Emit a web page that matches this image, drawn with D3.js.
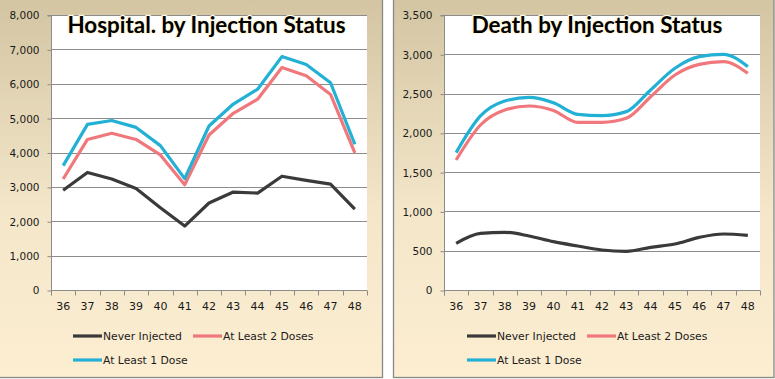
<!DOCTYPE html>
<html><head><meta charset="utf-8">
<script src="https://cdn.jsdelivr.net/npm/d3@7"></script>
<style>
html,body{margin:0;padding:0;background:#fff;}
svg{display:block;}
</style></head>
<body>
<svg id="c" width="775" height="379"></svg>
<script>
const weeks = ["36","37","38","39","40","41","42","43","44","45","46","47","48"];
const seriesNames = ["Never Injected","At Least 2 Doses","At Least 1 Dose"];
const seriesColors = ["#3a3a3a","#f0787c","#22b0d4"];

const hospNever = [2900,3420,3230,2950,2390,1860,2530,2850,2820,3310,3190,3080,2350];
const hospTwo   = [3230,4380,4560,4380,3930,3060,4510,5140,5550,6470,6230,5690,3990];
const hospOne   = [3620,4820,4930,4730,4200,3240,4770,5410,5840,6790,6560,6030,4240];
const hospTicks = [0,1000,2000,3000,4000,5000,6000,7000,8000];

const deathNever = [594,721,734,687,615,560,509,492,543,585,670,713,696];
const deathTwo   = [1655,2100,2291,2342,2285,2134,2134,2185,2460,2736,2872,2906,2758];
const deathOne   = [1748,2215,2405,2452,2384,2236,2219,2270,2546,2822,2970,3000,2843];
const deathTicks = [0,500,1000,1500,2000,2500,3000,3500];

const svg = d3.select("#c");
const defs = svg.append("defs");
const grad = defs.append("linearGradient").attr("id","bg").attr("x1",0).attr("y1",0).attr("x2",0).attr("y2",1);
grad.append("stop").attr("offset","0%").attr("stop-color","#d3c5a2");
grad.append("stop").attr("offset","55%").attr("stop-color","#f3e6c9");
grad.append("stop").attr("offset","100%").attr("stop-color","#fdeed2");

const fmt = d3.format(",");

function panel(cfg){
  const g = svg.append("g");
  g.append("rect").attr("x",cfg.px).attr("y",-1).attr("width",cfg.pw).attr("height",378.5)
    .attr("fill","url(#bg)").attr("stroke","#888").attr("stroke-width",1.3);
  const x = d3.scaleBand().domain(weeks).range([cfg.x0,cfg.x1]);
  const y = d3.scaleLinear().domain([0,cfg.max]).range([290,15]);
  g.append("rect").attr("x",cfg.x0).attr("y",15).attr("width",cfg.x1-cfg.x0).attr("height",275).attr("fill","#fff");
  // grid
  g.append("g").selectAll("line").data(cfg.ticks.filter(t=>t>0)).join("line")
    .attr("x1",cfg.x0).attr("x2",cfg.x1).attr("y1",d=>Math.round(y(d))+0.5).attr("y2",d=>Math.round(y(d))+0.5)
    .attr("stroke","#8c8c8c").attr("stroke-width",1);
  // y axis
  const ya = g.append("g").attr("transform",`translate(${cfg.x0+0.5},0.5)`)
    .call(d3.axisLeft(y).tickValues(cfg.ticks).tickFormat(fmt).tickSize(4).tickPadding(8));
  ya.select(".domain").attr("stroke","#8c8c8c").attr("d",`M-4,${y(cfg.max)}H0V${y(0)+5}`);
  ya.selectAll(".tick line").attr("stroke","#8c8c8c");
  ya.selectAll("text").attr("font-family","DejaVu Sans, Verdana, sans-serif").attr("font-size","10.5px").attr("fill","#1a1a1a");
  // x axis
  const xa = g.append("g").attr("transform",`translate(0,${y(0)+0.5})`)
    .call(d3.axisBottom(x).tickSize(0).tickPadding(12));
  xa.select(".domain").attr("stroke","#8c8c8c").attr("d",`M${cfg.x0},0H${cfg.x1}`);
  xa.selectAll("text").attr("font-family","DejaVu Sans, Verdana, sans-serif").attr("font-size","11px").attr("fill","#1a1a1a");
  const edges = weeks.map(w=>x(w)).concat([cfg.x1]);
  xa.append("g").selectAll("line").data(edges).join("line")
    .attr("x1",d=>Math.round(d)+0.5).attr("x2",d=>Math.round(d)+0.5).attr("y1",0).attr("y2",5)
    .attr("stroke","#8c8c8c");
  // lines
  const line = d3.line().x((d,i)=>x(weeks[i])+x.bandwidth()/2).y(d=>y(d)).curve(cfg.curve);
  cfg.data.forEach((s,i)=>{
    g.append("path").attr("d",line(s)).attr("fill","none").attr("stroke",seriesColors[i])
      .attr("stroke-width",3.2).attr("stroke-linejoin","round").attr("stroke-linecap","butt");
  });
  // title
  g.append("text").attr("x",cfg.tx).attr("y",33).attr("text-anchor","middle")
    .attr("font-family","Lato, 'Open Sans', sans-serif").attr("font-weight","bold")
    .attr("font-size","22.4px").attr("fill","#000").attr("stroke","#fff8e0").attr("stroke-width",2.5)
    .attr("paint-order","stroke").text(cfg.title);
  // legend
  const leg = [[cfg.lx,336,0],[cfg.lx+cfg.l2,336,1],[cfg.lx,360,2]];
  leg.forEach(([lx,ly,i])=>{
    g.append("line").attr("x1",lx).attr("x2",lx+29).attr("y1",ly).attr("y2",ly)
      .attr("stroke",seriesColors[i]).attr("stroke-width",3.2);
    g.append("text").attr("x",lx+30).attr("y",ly+4).attr("font-family","DejaVu Sans, Verdana, sans-serif")
      .attr("font-size","10.8px").attr("fill","#1a1a1a").text(seriesNames[i]);
  });
}

panel({px:-1,pw:383.5,x0:51,x1:367,max:8000,ticks:hospTicks,data:[hospNever,hospTwo,hospOne],
  title:"Hospital. by Injection Status",tx:206.5,lx:73,l2:120,curve:d3.curveLinear});
panel({px:393.5,pw:380.5,x0:444,x1:760,max:3500,ticks:deathTicks,data:[deathNever,deathTwo,deathOne],
  title:"Death by Injection Status",tx:597,lx:467,l2:120,curve:d3.curveMonotoneX});
</script>
</body></html>
